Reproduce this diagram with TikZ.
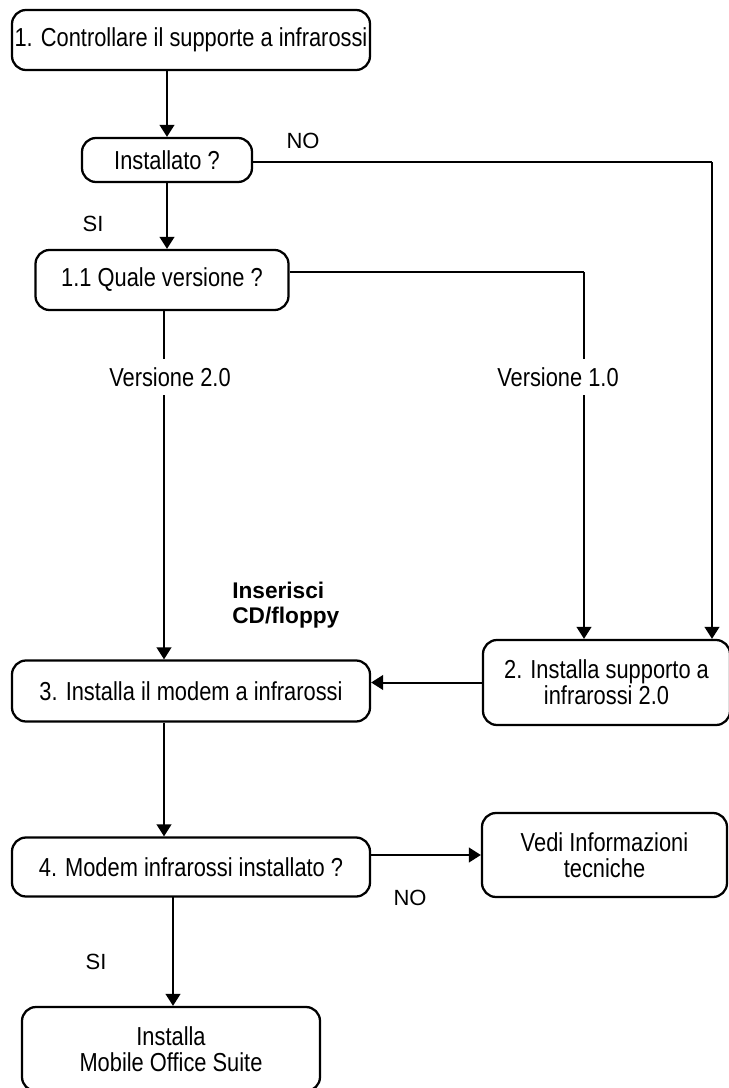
\documentclass[tikz,border=0pt]{standalone}
\usepackage{fontspec}
\setmainfont{Liberation Sans}
\newfontfamily\cond[FakeStretch=0.84]{Liberation Sans}
\usetikzlibrary{arrows.meta,calc}
\begin{document}
\begin{tikzpicture}[x=0.75pt,y=-0.75pt,
  box/.style={draw,line width=1.7pt,rounded corners=10.5pt,inner sep=0pt,align=center,
    font=\cond\fontsize{19.5}{19.5}\selectfont},
  conn/.style={line width=1.5pt},
  arr/.style={line width=1.5pt,-{Triangle[width=11pt,length=9pt]}},
  lbl/.style={font=\fontsize{16.5}{18}\selectfont,inner sep=0pt},
  vlbl/.style={font=\cond\fontsize{19.5}{19.5}\selectfont,fill=white,inner xsep=2pt,inner ysep=6pt}]
\useasboundingbox (0,0) rectangle (728,1088);
% boxes
\node[box,minimum width=358*0.75pt,minimum height=60*0.75pt] (b1) at (191,40) {1. Controllare il supporte a infrarossi};
\node[box,minimum width=170*0.75pt,minimum height=44*0.75pt] (inst) at (167,160) {Installato ?};
\node[box,minimum width=253*0.75pt,minimum height=60*0.75pt] (quale) at (162,280) {1.1 Quale versione ?};
\node[box,minimum width=247*0.75pt,minimum height=85*0.75pt] (b2) at (606.5,682.5) {2. Installa supporto a\\infrarossi 2.0};
\node[box,minimum width=358*0.75pt,minimum height=61*0.75pt] (b3) at (191,691) {3. Installa il modem a infrarossi};
\node[box,minimum width=358*0.75pt,minimum height=59*0.75pt] (b4) at (191,867) {4. Modem infrarossi installato ?};
\node[box,minimum width=245*0.75pt,minimum height=84*0.75pt] (vedi) at (604.5,855) {Vedi Informazioni\\tecniche};
\node[box,minimum width=298*0.75pt,minimum height=84*0.75pt] (fin) at (171,1049) {Installa\\Mobile Office Suite};
% coordinates
\coordinate (c1) at (712,162);
\coordinate (q1) at (584,272);
\coordinate (v2top) at (164,310);
% connectors
\draw[arr] (b1.south -| inst.north) -- (inst.north);
\draw[arr] (inst.south) -- (inst.south |- quale.north);
\draw[conn] (inst.east |- c1) -- (c1);
\draw[arr] (c1) -- (c1 |- b2.north);
\draw[conn] (quale.east |- q1) -- (q1);
\draw[arr] (q1) -- (q1 |- b2.north);
\draw[arr] (v2top) -- (v2top |- b3.north);
\draw[arr] (b2.west) -- (b2.west -| b3.east);
\draw[arr] (b3.south -| v2top) -- (v2top |- b4.north);
\draw[arr] (b4.east |- vedi.west) -- (vedi.west);
\coordinate (s4) at (173,897);
\draw[arr] (s4) -- (s4 |- fin.north);
% labels
\node[vlbl] (l20) at (170,377) {Versione 2.0};
\node[vlbl] (l10) at (558,377) {Versione 1.0};
\node[lbl] (no1) at (303,141) {NO};
\node[lbl] (si1) at (93,224) {SI};
\node[lbl] (no2) at (410,898) {NO};
\node[lbl] (si2) at (96,962) {SI};
\node[font=\bfseries\fontsize{17}{18.5}\selectfont,align=left,anchor=west,inner sep=0pt] (ins) at (232,605) {Inserisci\\CD/floppy};
\end{tikzpicture}
\end{document}
